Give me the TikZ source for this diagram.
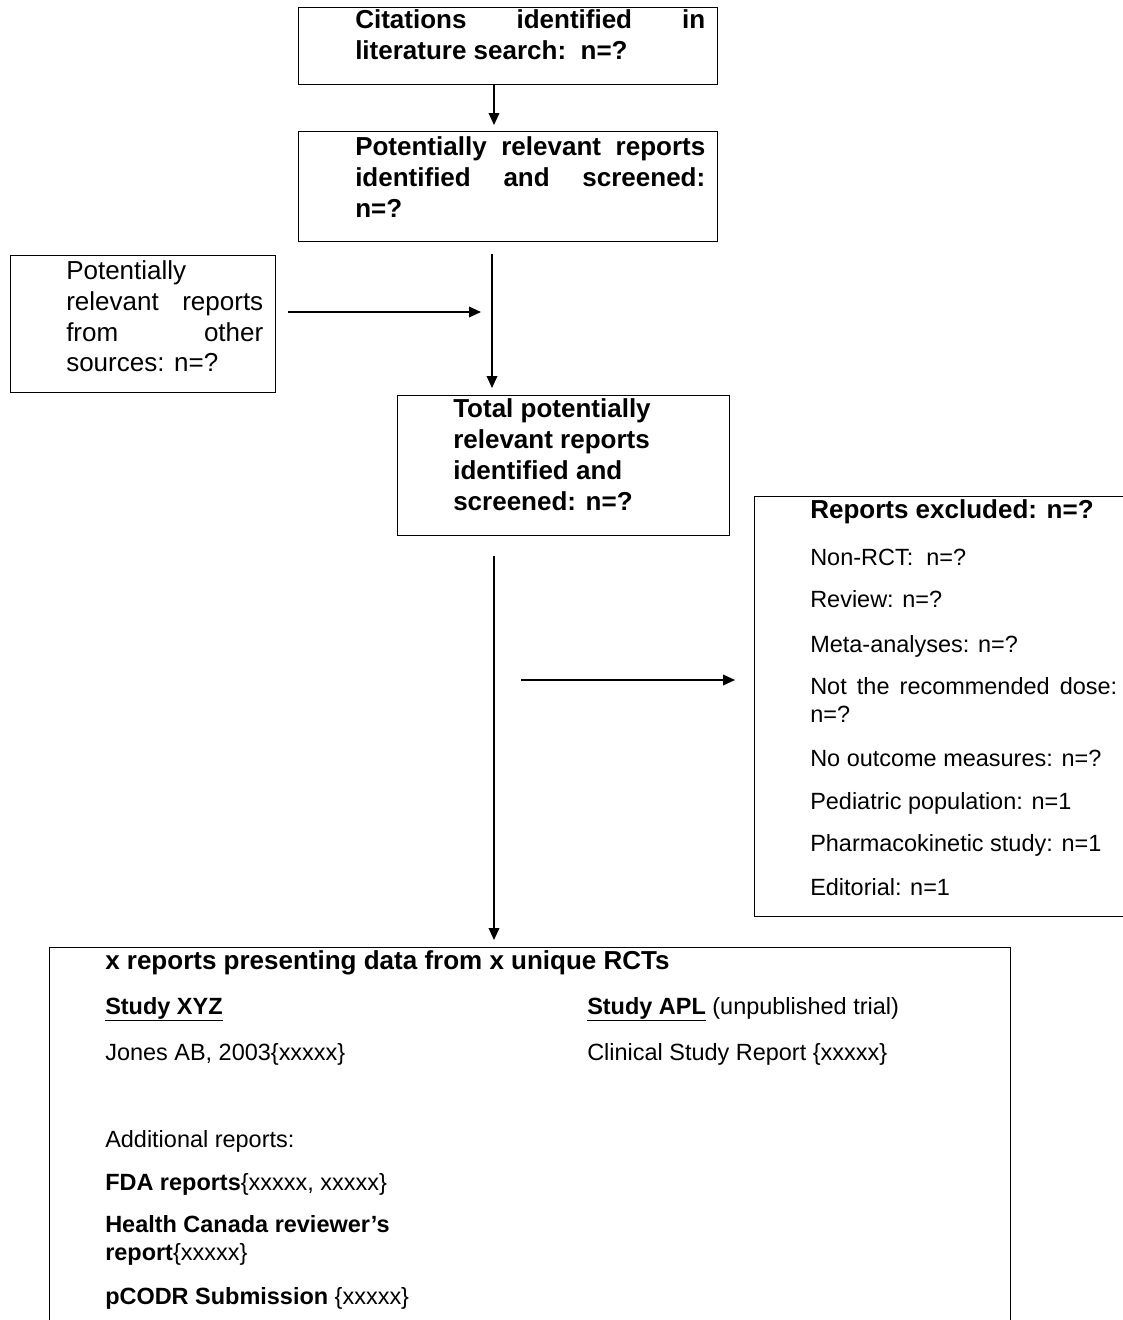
\documentclass[tikz,border=0pt]{standalone}
\usepackage{fontspec}
\setmainfont{Liberation Sans}
\usetikzlibrary{arrows.meta}
\tikzset{
  box/.style={draw, line width=1.1pt, inner sep=0pt, anchor=north west},
  arr/.style={line width=1.1pt, -{Triangle[length=9pt,width=8pt]}},
  hd/.style={anchor=base west, inner sep=0pt, font=\bfseries\fontsize{19.5}{23}\selectfont},
  bg/.style={anchor=base west, inner sep=0pt, font=\fontsize{19.5}{23}\selectfont},
  txt/.style={anchor=base west, inner sep=0pt, font=\fontsize{17.6}{21}\selectfont}
}
\begin{document}
\begin{tikzpicture}[x=0.75pt, y=-0.75pt]
        \useasboundingbox (0, 0) rectangle (1123, 1320);
        \clip (0, 0) rectangle (1123, 1320);
        \node[box, minimum width=314.25pt, minimum height=57.75pt] (cite) at (298, 7) {};
        \node[box, minimum width=314.25pt, minimum height=82.5pt] (screen) at (298, 131) {};
        \node[box, minimum width=198.75pt, minimum height=102.75pt] (other) at (10, 255) {};
        \node[box, minimum width=249pt, minimum height=105pt] (total) at (397, 395) {};
        \node[box, minimum width=285pt, minimum height=315pt] (excl) at (754, 496) {};
        \node[box, minimum width=720.75pt, minimum height=300pt] (rcts) at (49, 947) {};
        \node[hd] (cite1) at (355, 29) {\makebox[262.5pt][s]{Citations identified in}};
        \node[hd] (cite2) at (355, 60) {literature search:~~n=?};
        \node[hd] (scr1) at (355, 155) {\makebox[262.5pt][s]{Potentially relevant reports}};
        \node[hd] (scr2) at (355, 186) {\makebox[262.5pt][s]{identified and screened:}};
        \node[hd] (scr3) at (355, 217) {n=?};
        \node[bg] (oth1) at (66, 279) {Potentially};
        \node[bg] (oth2) at (66, 310) {\makebox[147.75pt][s]{relevant reports}};
        \node[bg] (oth3) at (66, 341) {\makebox[147.75pt][s]{from other}};
        \node[bg] (oth4) at (66, 371) {sources: n=?};
        \node[hd] (tot1) at (453, 417) {Total potentially};
        \node[hd] (tot2) at (453, 448) {relevant reports};
        \node[hd] (tot3) at (453, 479) {identified and};
        \node[hd] (tot4) at (453, 510) {screened: n=?};
        \node[hd] (exh) at (810, 518) {Reports excluded: n=?};
        \node[txt] (ex1) at (810, 565) {Non-RCT:~~n=?};
        \node[txt] (ex2) at (810, 607) {Review: n=?};
        \node[txt] (ex3) at (810, 652) {Meta-analyses: n=?};
        \node[txt] (ex4) at (810, 694) {\makebox[230.25pt][s]{Not the recommended dose:}};
        \node[txt] (ex5) at (810, 722) {n=?};
        \node[txt] (ex6) at (810, 766) {No outcome measures: n=?};
        \node[txt] (ex7) at (810, 809) {Pediatric population: n=1};
        \node[txt] (ex8) at (810, 851) {Pharmacokinetic study: n=1};
        \node[txt] (ex9) at (810, 895) {Editorial: n=1};
        \node[hd] (rcth) at (105, 969) {x reports presenting data from x unique RCTs};
        \node[txt] (xyz) at (105, 1014) {\textbf{\underline{Study XYZ}}};
        \node[txt] (apl) at (587, 1014) {\textbf{\underline{Study APL}} (unpublished trial)};
        \node[txt] (jones) at (105, 1060) {Jones AB, 2003\{xxxxx\}};
        \node[txt] (csr) at (587, 1060) {Clinical Study Report \{xxxxx\}};
        \node[txt] (add) at (105, 1147) {Additional reports:};
        \node[txt] (fda) at (105, 1190) {\textbf{FDA reports}\{xxxxx, xxxxx\}};
        \node[txt] (hc1) at (105, 1232) {\textbf{Health Canada reviewer's}};
        \node[txt] (hc2) at (105, 1260) {\textbf{report}\{xxxxx\}};
        \node[txt] (pcodr) at (105, 1304) {\textbf{pCODR Submission} \{xxxxx\}};
        \coordinate (col1) at (494, 0);
        \coordinate (col2) at (492, 0);
        \coordinate (row1) at (0, 312);
        \coordinate (split) at (521, 680);
        \draw[arr, shorten >=4.5pt] (cite.south -| col1) -- (screen.north -| col1);
        \draw[arr, shorten <=9pt, shorten >=5.25pt] (screen.south -| col2) -- (total.north -| col2);
        \draw[arr, shorten <=9pt, shorten >=8.25pt] (other.east |- row1) -- (col2 |- row1);
        \draw[arr, shorten <=15pt, shorten >=5.25pt] (total.south -| col1) -- (rcts.north -| col1);
        \draw[arr, shorten >=14.25pt] (split) -- (excl.west |- split);
\end{tikzpicture}
\end{document}
